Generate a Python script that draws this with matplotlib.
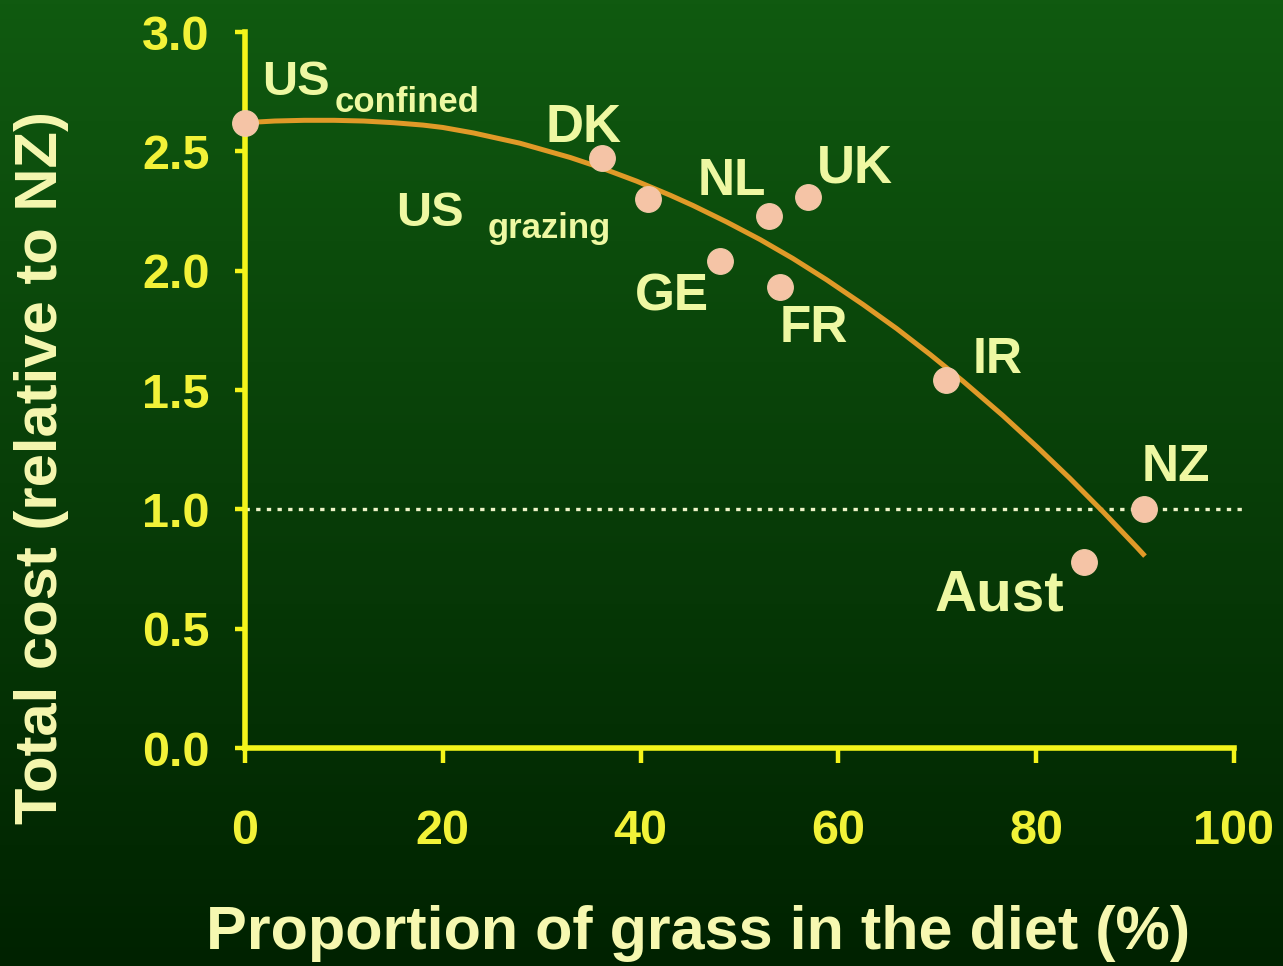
import numpy as np
import matplotlib
matplotlib.use("Agg")
import matplotlib.pyplot as plt

# ---- data ----
countries = ["US", "DK", "US", "NL", "UK", "GE", "FR", "IR", "NZ", "Aust"]
subscripts = ["confined", None, "grazing", None, None, None, None, None, None, None]
grass_pct = [0.0, 36.1, 40.7, 53.0, 56.9, 48.0, 54.1, 70.9, 90.9, 84.8]
total_cost = [2.62, 2.47, 2.30, 2.23, 2.31, 2.04, 1.93, 1.54, 1.00, 0.78]

curve_x = [0, 3, 6, 9, 12, 15, 18, 20, 23.1, 27.8, 32.9, 36.0, 39.6, 43.0, 45.3,
           48.7, 52.1, 55.4, 58.8, 62.5, 65.9, 69.3, 72.6, 76.6, 80.1, 83.4, 86.8, 90.2, 91.0]
curve_y = [2.62, 2.627, 2.63, 2.63, 2.627, 2.62, 2.61, 2.60, 2.577, 2.534, 2.474, 2.431,
           2.375, 2.316, 2.273, 2.204, 2.130, 2.051, 1.962, 1.858, 1.757, 1.648, 1.537,
           1.394, 1.261, 1.130, 0.988, 0.840, 0.804]

ref_level = 1.0
x_ticks = [0, 20, 40, 60, 80, 100]
y_ticks = [0.0, 0.5, 1.0, 1.5, 2.0, 2.5, 3.0]
x_label = "Proportion of grass in the diet (%)"
y_label = "Total cost (relative to NZ)"

# ---- style / layout ----
# label offsets (pixels) from the marker centre: (dx, dy, size)
label_style = [(17, 28, 35), (-57, 16, 38), (-251, -27, 35), (-72, 21, 37), (9, 14, 38),
               (-85, -49, 37), (0, -55, 37), (26, 7, 36), (-2, 28, 37), (-149, -49, 42)]
sub_style = {0: (90, 11, 25), 2: (-160, -39, 25)}

plt.rcParams['font.family'] = ['Liberation Sans', 'DejaVu Sans']
plt.rcParams['font.weight'] = 'bold'

W, H = 1283, 966
fig = plt.figure(figsize=(W / 100, H / 100), dpi=100)

# gradient background
bg = fig.add_axes([0, 0, 1, 1], zorder=-10)
top = np.array([16, 90, 16]) / 255.0
bot = np.array([0, 34, 0]) / 255.0
t = np.linspace(0, 1, 256)[:, None]
grad = top[None, :] * (1 - t) + bot[None, :] * t
bg.imshow(grad[:, None, :], aspect='auto', extent=[0, 1, 0, 1])
bg.axis('off')

ax = fig.add_axes([245 / W, 1 - 748 / H, (1234 - 245) / W, (748 - 32) / H])
ax.set_facecolor('none')
ax.set_xlim(0, 100)
ax.set_ylim(0, 3.0)

yellow = '#f4f41a'
for s in ['top', 'right']:
    ax.spines[s].set_visible(False)
for s in ['left', 'bottom']:
    ax.spines[s].set_color(yellow)
    ax.spines[s].set_linewidth(4.0)
    ax.spines[s].set_capstyle('projecting')

ax.set_xticks(x_ticks)
ax.set_yticks(y_ticks)
ax.set_xticklabels([str(v) for v in x_ticks])
ax.set_yticklabels([f"{v:.1f}" for v in y_ticks])
tick_col = '#f2f238'
ax.tick_params(axis='x', direction='out', length=11, width=3.2, color=yellow,
               pad=33, labelsize=35, labelcolor=tick_col)
ax.tick_params(axis='y', direction='out', length=7.5, width=3.2, color=yellow,
               pad=18, labelsize=35, labelcolor=tick_col)
for lab in ax.get_xticklabels() + ax.get_yticklabels():
    lab.set_fontweight('bold')

# dotted reference line
ax.plot([0, 100.9], [ref_level, ref_level], linestyle=(0, (1.3, 1.9)), color='#eef4c8',
        linewidth=2.4, clip_on=False, zorder=2)

# trend curve
ax.plot(curve_x, curve_y, color='#e09a28', linewidth=3.6, solid_capstyle='butt',
        solid_joinstyle='round', clip_on=False, zorder=3)

# points
ax.plot(grass_pct, total_cost, linestyle='none', marker='o', markersize=18.5,
        markerfacecolor='#f5c4a6', markeredgecolor='#f2caa8', markeredgewidth=0.8,
        clip_on=False, zorder=4)

lab_col = '#eef8a2'
for i, (name, x, y) in enumerate(zip(countries, grass_pct, total_cost)):
    dx, dy, fs = label_style[i]
    ax.annotate(name, (x, y), xytext=(dx, dy), textcoords='offset pixels',
                ha='left', va='baseline', fontsize=fs, fontweight='bold',
                color=lab_col, zorder=5, annotation_clip=False)
    if subscripts[i]:
        sdx, sdy, sfs = sub_style[i]
        ax.annotate(subscripts[i], (x, y), xytext=(sdx, sdy), textcoords='offset pixels',
                    ha='left', va='baseline', fontsize=sfs, fontweight='bold',
                    color=lab_col, zorder=5, annotation_clip=False)

axis_col = '#f6f8b0'
fig.text(698 / W, 1 - 933 / H, x_label, ha='center', va='center', fontsize=44,
         fontweight='bold', color=axis_col)
fig.text(42 / W, 1 - 468 / H, y_label, ha='center', va='center', rotation=90,
         fontsize=43, fontweight='bold', color=axis_col)

fig.savefig('out.png', dpi=100)
